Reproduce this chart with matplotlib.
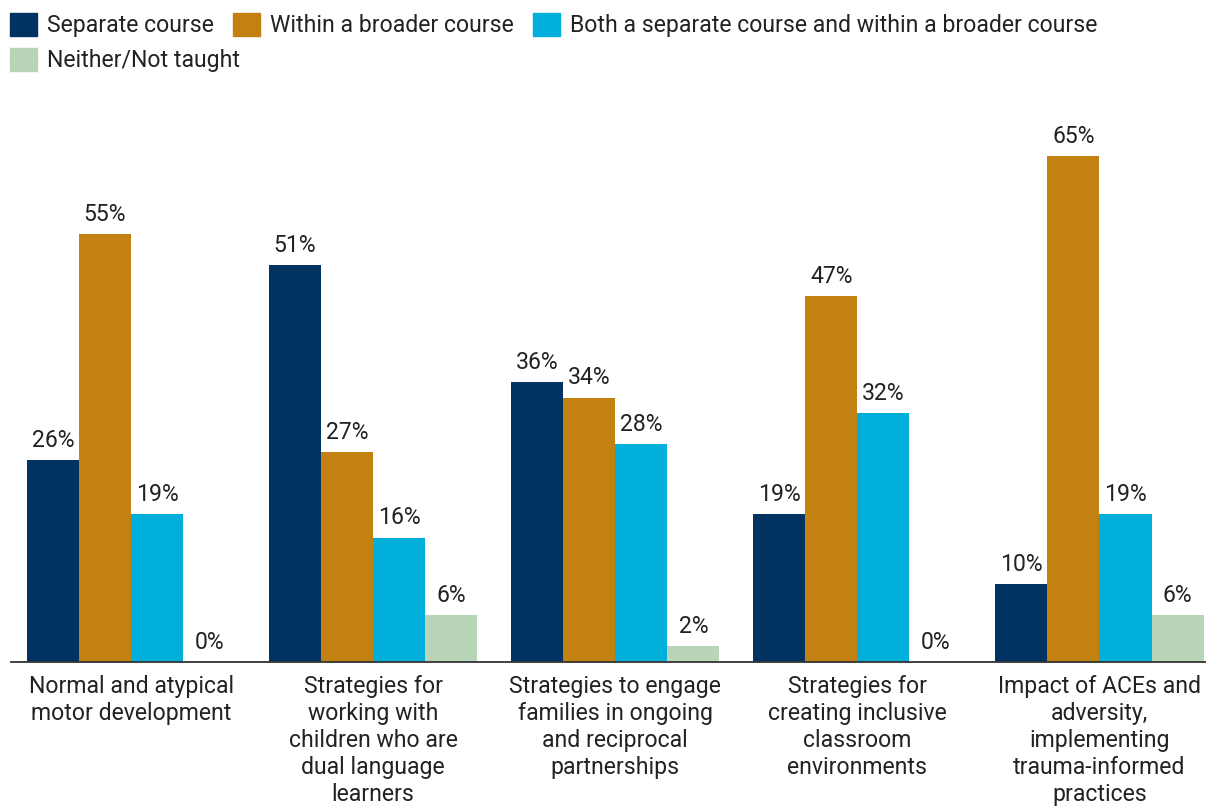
import numpy as np
import matplotlib.pyplot as plt
from matplotlib.patches import Patch

plt.rcParams['font.family'] = ['Roboto', 'DejaVu Sans']

categories = [
    'Normal and atypical\nmotor development',
    'Strategies for\nworking with\nchildren who are\ndual language\nlearners',
    'Strategies to engage\nfamilies in ongoing\nand reciprocal\npartnerships',
    'Strategies for\ncreating inclusive\nclassroom\nenvironments',
    'Impact of ACEs and\nadversity,\nimplementing\ntrauma-informed\npractices',
]
series = ['Separate course', 'Within a broader course',
          'Both a separate course and within a broader course',
          'Neither/Not taught']
separate = [26, 51, 36, 19, 10]
broader = [55, 27, 34, 47, 65]
both = [19, 16, 28, 32, 19]
neither = [0, 6, 2, 0, 6]
colors = ['#003361', '#C38111', '#00B0DA', '#B9D5B7']

txt = '#222222'
fs = 16.6

fig = plt.figure(figsize=(12.06, 8.07), dpi=100)
ax = fig.add_axes([11 / 1206, 1 - 662 / 807, 1 - 11 / 1206, (662 - 130) / 807])

x = np.arange(len(categories))
w = 0.215
for i, (vals, c) in enumerate(zip([separate, broader, both, neither], colors)):
    pos = x + (i - 1.5) * w
    ax.bar(pos, vals, width=w, color=c, label=series[i])
    for xp, v in zip(pos, vals):
        ax.annotate(f'{v}%', (xp, v), xytext=(0, 9.5), textcoords='offset points',
                    ha='center', va='baseline', fontsize=fs, color=txt)

ax.set_xlim(-0.496, 4.44)
ax.set_ylim(0, 68.4)
ax.set_yticks([])
ax.set_xticks(x)
ax.set_xticklabels(categories, fontsize=fs, color=txt, linespacing=1.23)
ax.tick_params(axis='x', length=0, pad=9)
for s in ['top', 'right', 'left']:
    ax.spines[s].set_visible(False)
ax.spines['bottom'].set_color('#333333')
ax.spines['bottom'].set_linewidth(1.3)

# legend laid out as a flowing row, then the last item on its own row
leg_kw = dict(frameon=False, fontsize=fs, handlelength=1.17, handleheight=1.15,
              handletextpad=0.43, columnspacing=0.83, borderpad=0,
              borderaxespad=0, loc='upper left', labelcolor=txt)
patches = [Patch(color=c) for c in colors]
fig.legend(patches[:3], series[:3], ncol=3,
           bbox_to_anchor=(10 / 1206, 1 - 13 / 807), **leg_kw)
fig.legend(patches[3:], series[3:], ncol=1,
           bbox_to_anchor=(10 / 1206, 1 - 48 / 807), **leg_kw)

fig.savefig('out.png', dpi=100)
